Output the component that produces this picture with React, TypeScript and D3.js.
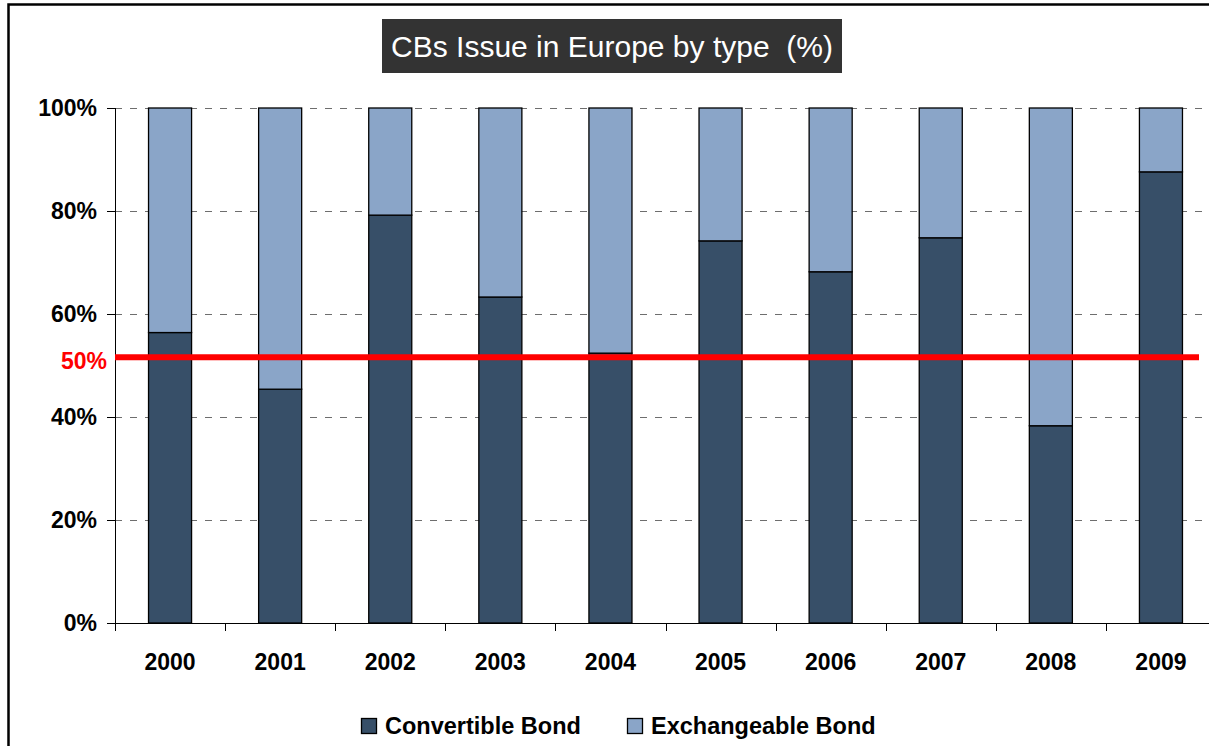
import React, { useEffect, useRef } from 'react';
import * as d3 from 'd3';

// Datos
const years = ['2000', '2001', '2002', '2003', '2004', '2005', '2006', '2007', '2008', '2009'];
const convertible = [56.4, 45.4, 79.2, 63.3, 52.4, 74.2, 68.2, 74.8, 38.3, 87.6];
const exchangeable = [43.6, 54.6, 20.8, 36.7, 47.6, 25.8, 31.8, 25.2, 61.7, 12.4];
const yTicks = [0, 20, 40, 60, 80, 100];
const refValue = 51.6;
const refLabel = '50%';
const seriesNames = ['Convertible Bond', 'Exchangeable Bond'];
const title = 'CBs Issue in Europe by type  (%)';

const App = () => {
  const chartRef = useRef<HTMLDivElement>(null);

  useEffect(() => {
    const W = 1209;
    const H = 746;
    const font = '"Liberation Sans", Arial, sans-serif';
    const colors = ['#374f68', '#8aa5c8'];

    const root = d3.select(chartRef.current);
    root.selectAll('*').remove();

    const svg = root
      .append('svg')
      .attr('width', W)
      .attr('height', H)
      .style('display', 'block')
      .style('font-family', font);

    svg.append('rect').attr('width', W).attr('height', H).attr('fill', '#fff');

    // Marco exterior (solo izquierda y arriba quedan visibles)
    svg
      .append('path')
      .attr('d', `M8.5,${H + 10}V4.5H${W + 10}`)
      .attr('fill', 'none')
      .attr('stroke', '#000')
      .attr('stroke-width', 2.5);

    const x = d3
      .scaleBand()
      .domain(years)
      .range([115, 1216])
      .paddingInner(0.6)
      .paddingOuter(0.3);

    const y = d3.scaleLinear().domain([0, 100]).range([623, 108]);

    // Lineas de grilla
    svg
      .selectAll('.grid')
      .data(yTicks.filter(d => d > 0))
      .enter()
      .append('line')
      .attr('x1', 115)
      .attr('x2', W)
      .attr('y1', d => Math.round(y(d)) + 0.5)
      .attr('y2', d => Math.round(y(d)) + 0.5)
      .attr('stroke', '#6e6e6e')
      .attr('stroke-width', 1)
      .attr('stroke-dasharray', '7,8');

    // Barras apiladas
    const table = years.map((yr, i) => ({
      year: yr,
      [seriesNames[0]]: convertible[i],
      [seriesNames[1]]: exchangeable[i],
    }));
    const stack = d3.stack<any>().keys(seriesNames)(table);

    svg
      .selectAll('.serie')
      .data(stack)
      .enter()
      .append('g')
      .attr('fill', (d, i) => colors[i])
      .selectAll('rect')
      .data(d => d)
      .enter()
      .append('rect')
      .attr('x', d => (x(d.data.year) as number) + 0.5)
      .attr('y', d => y(d[1]))
      .attr('width', x.bandwidth() - 1)
      .attr('height', d => y(d[0]) - y(d[1]))
      .attr('stroke', '#000')
      .attr('stroke-width', 1.3);

    // Eje Y
    svg
      .append('line')
      .attr('x1', 115.5)
      .attr('x2', 115.5)
      .attr('y1', y(100))
      .attr('y2', 631)
      .attr('stroke', '#000');

    svg
      .selectAll('.ytick')
      .data(yTicks)
      .enter()
      .append('line')
      .attr('x1', 107)
      .attr('x2', 115)
      .attr('y1', d => Math.round(y(d)) + 0.5)
      .attr('y2', d => Math.round(y(d)) + 0.5)
      .attr('stroke', '#000');

    svg
      .selectAll('.ylabel')
      .data(yTicks)
      .enter()
      .append('text')
      .attr('x', 97)
      .attr('y', d => y(d))
      .attr('dy', '0.36em')
      .attr('text-anchor', 'end')
      .style('font-size', '23px')
      .style('font-weight', 'bold')
      .text(d => d + '%');

    // Eje X
    svg
      .append('line')
      .attr('x1', 107)
      .attr('x2', W)
      .attr('y1', 623.5)
      .attr('y2', 623.5)
      .attr('stroke', '#000');

    svg
      .selectAll('.xtick')
      .data(years.slice(1))
      .enter()
      .append('line')
      .attr('x1', d => Math.round((x(d) as number) - (x.step() - x.bandwidth()) / 2) + 0.5)
      .attr('x2', d => Math.round((x(d) as number) - (x.step() - x.bandwidth()) / 2) + 0.5)
      .attr('y1', 623)
      .attr('y2', 631)
      .attr('stroke', '#000');

    svg
      .selectAll('.xlabel')
      .data(years)
      .enter()
      .append('text')
      .attr('x', d => (x(d) as number) + x.bandwidth() / 2)
      .attr('y', 662)
      .attr('dy', '0.36em')
      .attr('text-anchor', 'middle')
      .style('font-size', '23px')
      .style('font-weight', 'bold')
      .text(d => d);

    // Linea de referencia 50%
    svg
      .append('line')
      .attr('x1', 115)
      .attr('x2', 1199)
      .attr('y1', y(refValue))
      .attr('y2', y(refValue))
      .attr('stroke', '#ff0000')
      .attr('stroke-width', 6);

    svg
      .append('text')
      .attr('x', 107)
      .attr('y', y(refValue) + 3)
      .attr('dy', '0.36em')
      .attr('text-anchor', 'end')
      .attr('fill', '#ff0000')
      .style('font-size', '23px')
      .style('font-weight', 'bold')
      .text(refLabel);

    // Titulo
    svg
      .append('rect')
      .attr('x', 382)
      .attr('y', 19)
      .attr('width', 460)
      .attr('height', 54)
      .attr('fill', '#333333');

    svg
      .append('text')
      .attr('x', 612)
      .attr('y', 46)
      .attr('dy', '0.36em')
      .attr('text-anchor', 'middle')
      .attr('fill', '#fff')
      .style('font-size', '30px')
      .style('white-space', 'pre')
      .text(title);

    // Leyenda
    const legendX = [361, 627];
    const legend = svg
      .selectAll('.legend-item')
      .data(seriesNames)
      .enter()
      .append('g')
      .attr('transform', (d, i) => `translate(${legendX[i]},726)`);

    legend
      .append('rect')
      .attr('x', 0.5)
      .attr('y', -7.5)
      .attr('width', 15)
      .attr('height', 15)
      .attr('fill', (d, i) => colors[i])
      .attr('stroke', '#000')
      .attr('stroke-width', 1.3);

    legend
      .append('text')
      .attr('x', 24)
      .attr('y', 0)
      .attr('dy', '0.36em')
      .style('font-size', '23.5px')
      .style('font-weight', 'bold')
      .text(d => d);
  }, []);

  return <div ref={chartRef} style={{ position: 'absolute', left: 0, top: 0 }}></div>;
};

export default App;
